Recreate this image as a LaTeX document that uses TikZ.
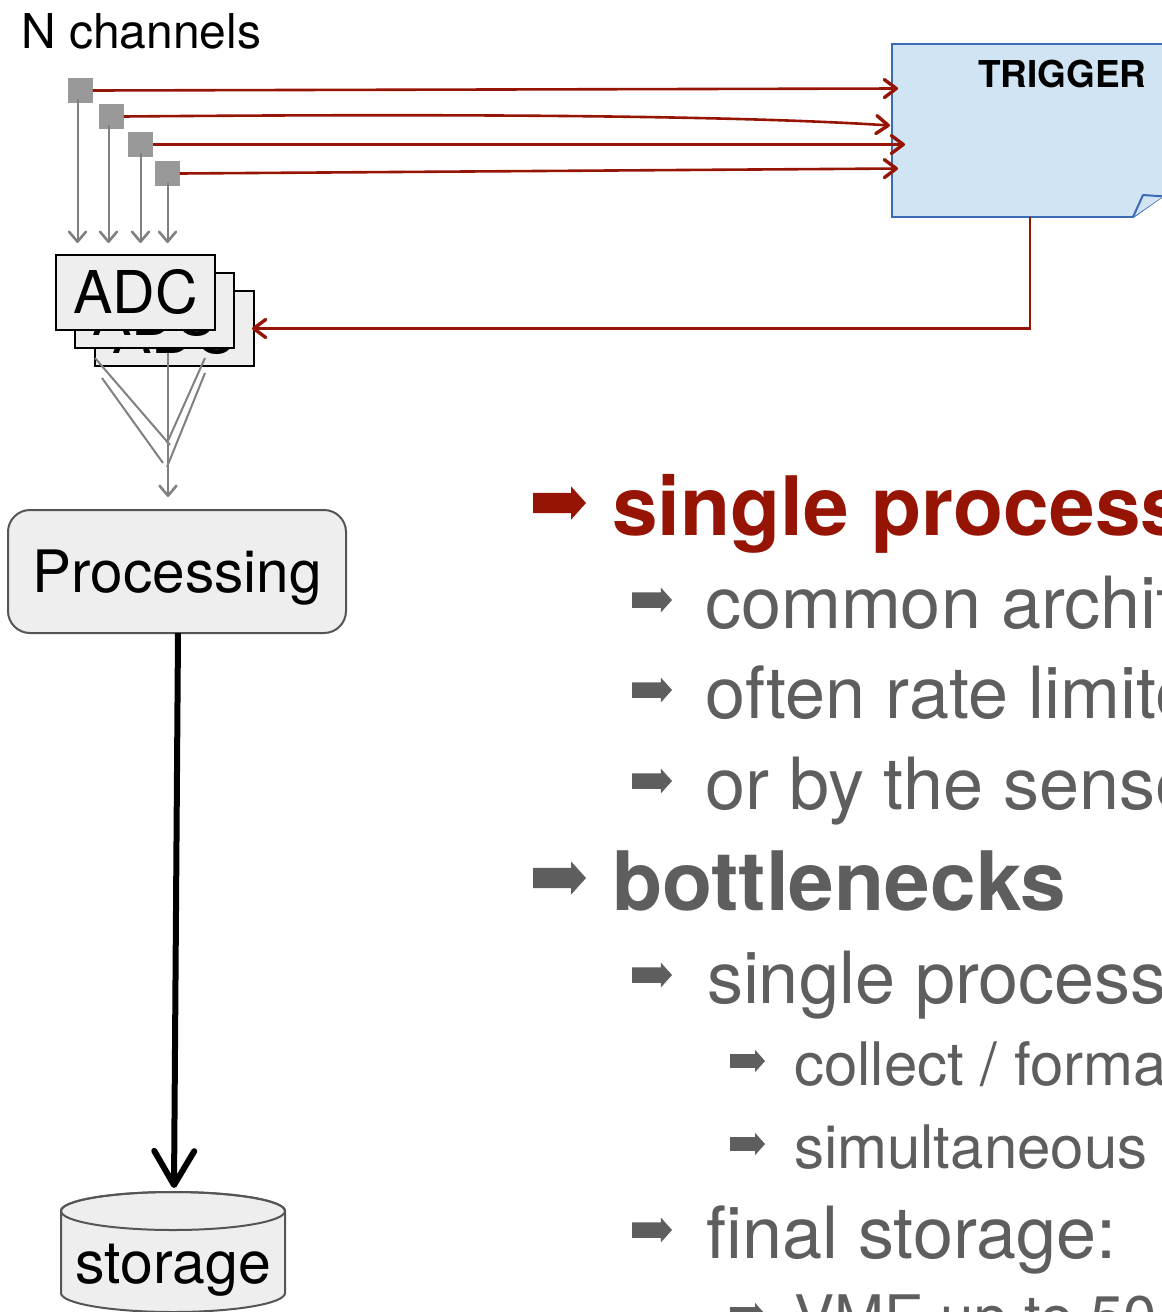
\documentclass[tikz,border=0pt]{standalone}
\usepackage{fontspec}
\setmainfont{TeX Gyre Heros}
\usetikzlibrary{arrows.meta,calc}

\definecolor{darkred}{RGB}{150,20,4}
\definecolor{txtgrey}{RGB}{94,94,94}
\definecolor{boxgrey}{RGB}{238,238,238}
\definecolor{chgrey}{RGB}{153,153,153}
\definecolor{lngrey}{RGB}{128,128,128}
\definecolor{trigfill}{RGB}{208,228,243}
\definecolor{trigline}{RGB}{59,107,181}
\definecolor{edgegrey}{RGB}{85,85,85}

\newcommand{\fsz}[1]{\fontsize{#1}{#1}\selectfont}

\begin{document}
\begin{tikzpicture}[x=1pt,y=-1pt,
  every node/.style={inner sep=0pt, outer sep=0pt},
  chan/.style={fill=chgrey, minimum size=24.5pt},
  adcbox/.style={draw=black, line width=2pt, fill=boxgrey, minimum width=159pt,
    minimum height=75pt, text height=41pt, text depth=0pt, font=\fsz{59}},
  adcrear/.style={adcbox, text height=49pt},
  procbox/.style={draw=edgegrey, line width=2pt, fill=boxgrey, rounded corners=22pt,
    minimum width=338pt, minimum height=123pt, text height=41pt, text depth=0pt, font=\fsz{58.5}},
  sig/.style={darkred, line width=2.6pt,
    -{Straight Barb[length=12pt,width=18pt,line width=3.4pt,round]}},
  feed/.style={lngrey, line width=2pt,
    -{Straight Barb[length=10pt,width=17pt,line width=2.6pt,round]}},
  fan/.style={lngrey, line width=2pt},
  flow/.style={black, line width=6pt,
    -{Straight Barb[length=34pt,width=40pt,round]}},
  lvlone/.style={anchor=base west, font=\fsz{82}\bfseries},
  lvltwo/.style={anchor=base west, font=\fsz{72}, text=txtgrey},
  lvlthree/.style={anchor=base west, font=\fsz{60}, text=txtgrey},
  pics/blt/.style={code={
    \fill (0,-0.31) -- (0.72,-0.31) -- (0.72,-0.5) -- (1,0) -- (0.72,0.5)
      -- (0.72,0.31) -- (0,0.31) -- cycle;}}
]
\useasboundingbox (0,0) rectangle (1162,1312);
\fill[white] (0,0) rectangle (1162,1312);

% ---------- channel inputs ----------
\node[anchor=base west, font=\fsz{48}] (nch) at (21,48) {N channels};
\node[chan] (ch1) at (80.5,90.5) {};
\node[chan] (ch2) at (111.5,116.5) {};
\node[chan] (ch3) at (140.5,144.5) {};
\node[chan] (ch4) at (167.5,173.5) {};

% ---------- trigger (note with folded corner) ----------
\node[draw=trigline, fill=trigfill, line width=2pt, minimum width=300pt,
  minimum height=173pt] (trig) at (1042,130) {};
\fill[white] (1131,219.5) -- (1197,172.5) -- (1197,221) -- cycle;
\draw[trigline, line width=2pt, line join=round] (1133,217) -- (1197,172);
\draw[trigline, line width=2pt, line join=round, fill=trigfill]
  (1133,217) -- (1143,195) -- (1163,196.4);
\node[anchor=base west, font=\fsz{37}\bfseries] (trigtxt) at (978,87) {TRIGGER};

% ---------- ADC stack ----------
\node[adcrear] (adc3) at (174.5,328.5) {ADC};
\node[adcrear] (adc2) at (154.5,310.5) {ADC};
\node[adcbox] (adc1) at (135.5,292.5) {ADC};

% channels into the ADCs
\draw[feed,shorten >=12pt] ([xshift=-3pt,yshift=-8pt]ch1.center) -- ([xshift=-3pt]ch1.center |- adc1.north);
\draw[feed,shorten >=12pt] ([xshift=-3pt,yshift=-8pt]ch2.center) -- ([xshift=-3pt]ch2.center |- adc1.north);
\draw[feed,shorten >=12pt] ([yshift=-8pt]ch3.center) -- (ch3.center |- adc1.north);
\draw[feed,shorten >=12pt] ([yshift=-8pt]ch4.center) -- (ch4.center |- adc1.north);

% channels into the trigger
\draw[sig] (ch1.east) -- ($(trig.north west)+(6,45)$);
\draw[sig] (ch2.east) .. controls (520,113) and (760,117) .. ($(trig.north west)+(-2,82)$);
\draw[sig] (ch3.east) -- ($(trig.north west)+(13,101)$);
\draw[sig] (ch4.east) -- ($(trig.north west)+(6,125)$);

% trigger back to the ADCs
\draw[sig, shorten >=-2pt] ($(trig.south west)+(138,0)$) |- (adc3.east);

% ---------- processing ----------
\node[procbox] (proc) at (177,571.5) {Processing};

\coordinate (fl1a) at (95,358);  \coordinate (fl1b) at (170,445);
\coordinate (fl2a) at (102,378); \coordinate (fl2b) at (163,463);
\coordinate (fr1a) at (205,358); \coordinate (fr1b) at (167,443);
\coordinate (fr2a) at (205,373); \coordinate (fr2b) at (167,467);
\coordinate (fmid) at (168,353);
\draw[fan] (fl1a) -- (fl1b);
\draw[fan] (fl2a) -- (fl2b);
\draw[fan] (fr1a) -- (fr1b);
\draw[fan] (fr2a) -- (fr2b);
\draw[feed] (fmid) -- ($(proc.north)+(-9,-13)$);

% ---------- storage ----------
\coordinate (stortop) at (174,1188);
\filldraw[draw=edgegrey, fill=boxgrey, line width=2pt]
  (61,1211) -- (61,1293) arc[start angle=180, end angle=360, x radius=112pt, y radius=19pt]
  -- (285,1211) arc[start angle=0, end angle=180, x radius=112pt, y radius=19pt] -- cycle;
\draw[edgegrey, line width=2pt] (173,1211) ellipse[x radius=112pt, y radius=19pt];
\node[anchor=base, font=\fsz{59}] (stor) at (173,1283) {storage};

\draw[flow] ($(proc.south)+(1,0)$) -- (stortop);

% ---------- bullet list ----------
\pic[darkred, xscale=53, yscale=33] at (533,503) {blt};
\node[lvlone, text=darkred] (b1) at (612,535) {single process};
\pic[txtgrey, xscale=40, yscale=25] at (632,600) {blt};
\node[lvltwo] (b2) at (705,628) {common archit};
\pic[txtgrey, xscale=40, yscale=25] at (632,690) {blt};
\node[lvltwo] (b3) at (705,718) {often rate limite};
\pic[txtgrey, xscale=40, yscale=25] at (632,781) {blt};
\node[lvltwo] (b4) at (705,809) {or by the sense};

\pic[txtgrey, xscale=53, yscale=33] at (533,878) {blt};
\node[lvlone, text=txtgrey] (b5) at (612,910) {bottlenecks};
\pic[txtgrey, xscale=40, yscale=25] at (632,975) {blt};
\node[lvltwo] (b6) at (707,1003) {single process};
\pic[txtgrey, xscale=35, yscale=22] at (730,1061) {blt};
\node[lvlthree] (b7) at (794,1085) {collect / forma};
\pic[txtgrey, xscale=35, yscale=22] at (730,1144) {blt};
\node[lvlthree] (b8) at (794,1168) {simultaneous};
\pic[txtgrey, xscale=40, yscale=25] at (632,1230) {blt};
\node[lvltwo] (b9) at (706,1258) {final storage:};
\pic[txtgrey, xscale=35, yscale=22] at (730,1314) {blt};
\node[lvlthree] (b10) at (794,1338) {VME up to 50};
\end{tikzpicture}
\end{document}
